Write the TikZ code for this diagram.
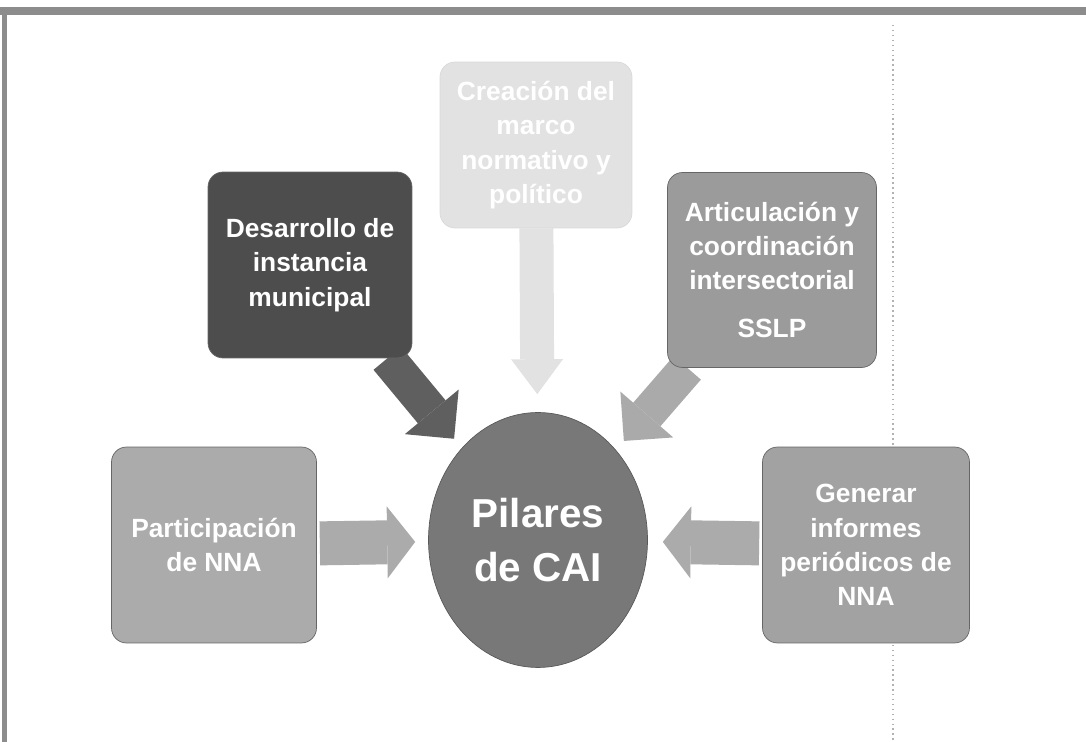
\documentclass[tikz,border=0pt]{standalone}
\usepackage{fontspec}
\setmainfont{Liberation Sans}
\usetikzlibrary{arrows.meta, positioning, shapes.geometric, backgrounds}

\definecolor{grisOscuro}{HTML}{4D4D4D}
\definecolor{grisMedio}{HTML}{9B9B9B}
\definecolor{grisClaro}{HTML}{ABABAB}
\definecolor{grisPilar}{HTML}{787878}
\definecolor{grisTenue}{HTML}{E2E2E2}

\tikzset{pilar/.style = {rectangle, rounded corners=0.3cm, draw=black!60, text=white,
                         align=center, font=\bfseries\fontsize{15}{19.5}\selectfont}}
\tikzset{flecha/.style n args = {4}{line width=#1, draw=#4,
                         -{Triangle[length=#2, width=#3, line width=0pt]}}}

\begin{document}
\begin{tikzpicture}[x=0.02cm, y=-0.02cm]
    \useasboundingbox (0,0) rectangle (1086,742);
    % borde de la hoja escaneada
    \fill[black!45] (0,7) rectangle (1086,15);
    \fill[black!45] (2,7) rectangle (7,742);
    \draw[black!30, dotted, line width=0.8pt] (893,25) -- (893,742);

    \node[ellipse, fill=grisPilar, draw=black!65, minimum width=4.38cm, minimum height=5.1cm,
          text=white, align=center, font=\bfseries\fontsize{23}{31}\selectfont]
          (pilares) at (538,540) {Pilares\\de CAI};

    \node[pilar, fill=grisTenue, draw=black!15, minimum width=3.84cm, minimum height=3.32cm]
          (creacion) at (536,145) {Creación del\\marco\\normativo y\\político};
    \node[pilar, fill=grisOscuro, minimum width=4.08cm, minimum height=3.72cm]
          (desarrollo) at (310,265) {Desarrollo de\\instancia\\municipal};
    \node[pilar, fill=grisMedio, minimum width=4.18cm, minimum height=3.9cm]
          (articulacion) at (772,270) {Articulación y\\coordinación\\intersectorial\\[8pt]SSLP};
    \node[pilar, fill=grisClaro, minimum width=4.1cm, minimum height=3.92cm]
          (participacion) at (214,545) {Participación\\de NNA};
    \node[pilar, fill=grisClaro!95!black, minimum width=4.14cm, minimum height=3.92cm]
          (generar) at (866,545) {Generar\\informes\\periódicos de\\NNA};

    \begin{scope}[on background layer]
        \draw[flecha={0.72cm}{0.7cm}{1.4cm}{grisOscuro!90}, shorten >=0.24cm] (desarrollo) -- (pilares);
        \draw[flecha={0.72cm}{0.7cm}{1.4cm}{grisMedio!85}, shorten >=0.24cm] (articulacion) -- (pilares);
        \draw[flecha={0.68cm}{0.7cm}{1.04cm}{grisTenue}, shorten >=0.36cm] (creacion) -- (pilares);
        \draw[flecha={0.88cm}{0.56cm}{1.44cm}{grisClaro}, shorten <=0.06cm, shorten >=0.26cm] (participacion) -- (pilares);
        \draw[flecha={0.88cm}{0.56cm}{1.44cm}{grisClaro}, shorten <=0.06cm, shorten >=0.3cm] (generar) -- (pilares);
    \end{scope}
\end{tikzpicture}
\end{document}
